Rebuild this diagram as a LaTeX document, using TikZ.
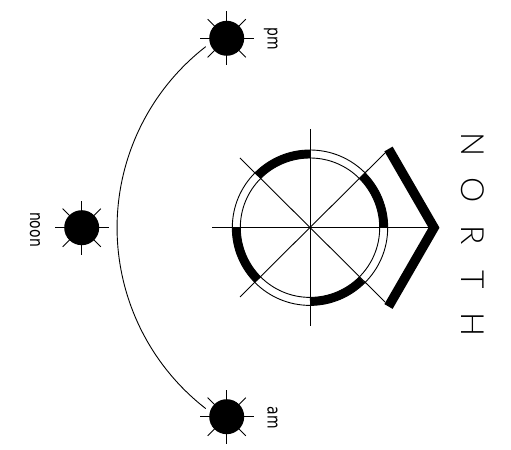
\documentclass[tikz,border=0pt]{standalone}
\usepackage{graphicx}
\usepackage{fontspec}
\usetikzlibrary{calc}
\setmainfont{DejaVu Sans}
\newfontfamily\northfont{Lato Light}
\newcommand{\tallword}[1]{\scalebox{1}[1.28]{#1}}
\tikzset{
  thin line/.style={line width=0.9bp,line cap=butt},
  thick arc/.style={line width=8bp,line cap=butt},
  sunlabel/.style={rotate=-90,inner sep=0pt,anchor=base,font=\fontsize{14}{14}\selectfont},
  northletter/.style={rotate=-90,inner sep=0pt,font=\northfont\fontsize{32}{32}\selectfont},
  pics/sun/.style={code={
    \foreach \a in {0,45,...,315}{\draw[thin line] (0,0) -- (\a:27);}
    \fill[black] (0,0) circle[radius=17.5];
  }}
}
\begin{document}
\begin{tikzpicture}[x=1bp,y=1bp]
\useasboundingbox (0,0) rectangle (511,450);
\coordinate (c) at (310,222.3);
% compass
\draw[thin line] (c) circle[radius=77.7];
\draw[thin line] (c) circle[radius=69.7];
\coordinate (w) at (212,222.3);
\coordinate (tipc) at (434,222.3);
\coordinate (n) at (310,321);
\coordinate (s) at (310,124);
\coordinate (nw) at (240,292);
\coordinate (sw) at (240,153);
\coordinate (ne) at (385,297);
\coordinate (se) at (385,148);
\draw[thin line] (w) -- (tipc);
\draw[thin line] (n) -- (s);
\draw[thin line] (nw) -- (se);
\draw[thin line] (sw) -- (ne);
\foreach \a in {0,90,180,270}{
  \draw[thick arc] ($(c)+(\a:73.7)$) arc[start angle=\a,delta angle=45,radius=73.7];
}
\coordinate (cha) at (388.5,301);
\coordinate (chb) at (388.5,143.5);
\draw[line width=9.5bp,line cap=butt,line join=miter] (cha) -- (tipc) -- (chb);
% suns
\pic at (226.7,411.7) {sun};
\pic at (81.7,222.3) {sun};
\pic at (226.7,33.3) {sun};
% sun path
\coordinate (patha) at (205.7,403.3);
\draw[thin line] (patha) arc[start angle=127.8,end angle=232.2,radius=229];
% labels
\node[sunlabel] (pm) at (267.5,411) {\tallword{pm}};
\node[sunlabel] (am) at (267.5,32) {\tallword{am}};
\node[sunlabel] (noon) at (30,220.5) {\tallword{noon}};
\node[northletter] (ln) at (473,305) {N};
\node[northletter] (lo) at (473,260) {O};
\node[northletter] (lr) at (473,215) {R};
\node[northletter] (lt) at (473,170) {T};
\node[northletter] (lh) at (473,125) {H};
\end{tikzpicture}
\end{document}
